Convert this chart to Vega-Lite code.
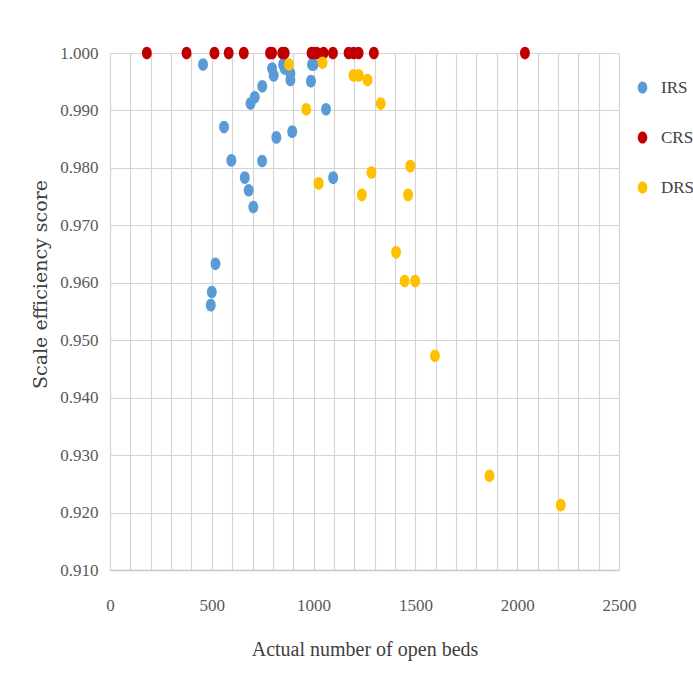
{
  "$schema": "https://vega.github.io/schema/vega-lite/v6.json",
  "autosize": {"type": "none"},
  "padding": {"left": 110, "top": 53, "right": 74, "bottom": 116},
  "width": 509,
  "height": 517,
  "background": "white",
  "config": {"view": {"stroke": null}},
  "data": {"values": [
    {"beds": 457, "score": 0.998, "type": "IRS"},
    {"beds": 796, "score": 0.9973, "type": "IRS"},
    {"beds": 804, "score": 0.9961, "type": "IRS"},
    {"beds": 850, "score": 0.998, "type": "IRS"},
    {"beds": 858, "score": 0.9973, "type": "IRS"},
    {"beds": 886, "score": 0.9964, "type": "IRS"},
    {"beds": 886, "score": 0.9953, "type": "IRS"},
    {"beds": 992, "score": 0.998, "type": "IRS"},
    {"beds": 1000, "score": 0.998, "type": "IRS"},
    {"beds": 987, "score": 0.9951, "type": "IRS"},
    {"beds": 748, "score": 0.9942, "type": "IRS"},
    {"beds": 711, "score": 0.9923, "type": "IRS"},
    {"beds": 690, "score": 0.9912, "type": "IRS"},
    {"beds": 1061, "score": 0.9902, "type": "IRS"},
    {"beds": 560, "score": 0.9871, "type": "IRS"},
    {"beds": 817, "score": 0.9853, "type": "IRS"},
    {"beds": 895, "score": 0.9863, "type": "IRS"},
    {"beds": 596, "score": 0.9813, "type": "IRS"},
    {"beds": 747, "score": 0.9812, "type": "IRS"},
    {"beds": 1096, "score": 0.9783, "type": "IRS"},
    {"beds": 662, "score": 0.9783, "type": "IRS"},
    {"beds": 681, "score": 0.9761, "type": "IRS"},
    {"beds": 704, "score": 0.9732, "type": "IRS"},
    {"beds": 518, "score": 0.9633, "type": "IRS"},
    {"beds": 500, "score": 0.9584, "type": "IRS"},
    {"beds": 495, "score": 0.9561, "type": "IRS"},
    {"beds": 181, "score": 1.0, "type": "CRS"},
    {"beds": 376, "score": 1.0, "type": "CRS"},
    {"beds": 513, "score": 1.0, "type": "CRS"},
    {"beds": 583, "score": 1.0, "type": "CRS"},
    {"beds": 657, "score": 1.0, "type": "CRS"},
    {"beds": 786, "score": 1.0, "type": "CRS"},
    {"beds": 796, "score": 1.0, "type": "CRS"},
    {"beds": 846, "score": 1.0, "type": "CRS"},
    {"beds": 858, "score": 1.0, "type": "CRS"},
    {"beds": 990, "score": 1.0, "type": "CRS"},
    {"beds": 1001, "score": 1.0, "type": "CRS"},
    {"beds": 1015, "score": 1.0, "type": "CRS"},
    {"beds": 1049, "score": 1.0, "type": "CRS"},
    {"beds": 1095, "score": 1.0, "type": "CRS"},
    {"beds": 1172, "score": 1.0, "type": "CRS"},
    {"beds": 1197, "score": 1.0, "type": "CRS"},
    {"beds": 1221, "score": 1.0, "type": "CRS"},
    {"beds": 1296, "score": 1.0, "type": "CRS"},
    {"beds": 2038, "score": 1.0, "type": "CRS"},
    {"beds": 879, "score": 0.998, "type": "DRS"},
    {"beds": 1044, "score": 0.9983, "type": "DRS"},
    {"beds": 964, "score": 0.9902, "type": "DRS"},
    {"beds": 1025, "score": 0.9773, "type": "DRS"},
    {"beds": 1196, "score": 0.9961, "type": "DRS"},
    {"beds": 1222, "score": 0.9961, "type": "DRS"},
    {"beds": 1265, "score": 0.9953, "type": "DRS"},
    {"beds": 1330, "score": 0.9912, "type": "DRS"},
    {"beds": 1284, "score": 0.9792, "type": "DRS"},
    {"beds": 1475, "score": 0.9803, "type": "DRS"},
    {"beds": 1237, "score": 0.9753, "type": "DRS"},
    {"beds": 1464, "score": 0.9753, "type": "DRS"},
    {"beds": 1405, "score": 0.9653, "type": "DRS"},
    {"beds": 1447, "score": 0.9603, "type": "DRS"},
    {"beds": 1499, "score": 0.9603, "type": "DRS"},
    {"beds": 1596, "score": 0.9473, "type": "DRS"},
    {"beds": 1864, "score": 0.9264, "type": "DRS"},
    {"beds": 2214, "score": 0.9213, "type": "DRS"}
  ]},
  "mark": {
    "type": "point",
    "filled": true,
    "opacity": 1,
    "size": 160,
    "shape": "M -0.78 0 A 0.78 1 0 1 1 0.78 0 A 0.78 1 0 1 1 -0.78 0 Z"
  },
  "encoding": {
    "x": {
      "field": "beds",
      "type": "quantitative",
      "scale": {"domain": [0, 2500], "nice": false, "zero": false},
      "axis": {
        "title": "Actual number of open beds",
        "values": [0,100,200,300,400,500,600,700,800,900,1000,1100,1200,1300,1400,1500,1600,1700,1800,1900,2000,2100,2200,2300,2400,2500],
        "labelExpr": "datum.value % 500 === 0 ? datum.label : ''",
        "format": "d",
        "grid": true,
        "gridColor": "#d4d4d4",
        "gridWidth": 1.2,
        "domain": true,
        "domainColor": "#c8c8c8",
        "domainWidth": 1.5,
        "ticks": false,
        "labelPadding": 27,
        "labelFont": "Liberation Serif",
        "labelFontSize": 17,
        "labelColor": "#595959",
        "labelOverlap": false,
        "labelFlush": false,
        "titleFont": "Liberation Serif",
        "titleFontSize": 20,
        "titleFontWeight": "normal",
        "titleColor": "#404040",
        "titlePadding": 26
      }
    },
    "y": {
      "field": "score",
      "type": "quantitative",
      "scale": {"domain": [0.91, 1.0], "nice": false, "zero": false},
      "axis": {
        "title": "Scale efficiency score",
        "values": [0.91,0.92,0.93,0.94,0.95,0.96,0.97,0.98,0.99,1.0],
        "format": ".3f",
        "grid": true,
        "gridColor": "#d4d4d4",
        "gridWidth": 1.2,
        "domain": false,
        "ticks": false,
        "labelPadding": 12,
        "labelFont": "Liberation Serif",
        "labelFontSize": 17,
        "labelColor": "#595959",
        "titleFont": "DejaVu Serif",
        "titleFontSize": 19,
        "titleFontWeight": "normal",
        "titleColor": "#404040",
        "titleX": -70,
        "titleY": 231,
        "titleAngle": -90,
        "titleAlign": "center",
        "titleBaseline": "middle"
      }
    },
    "color": {
      "field": "type",
      "type": "nominal",
      "scale": {"domain": ["IRS", "CRS", "DRS"], "range": ["#5B9BD5", "#C00000", "#FFC000"]},
      "legend": {
        "title": null,
        "orient": "none",
        "legendX": 524,
        "legendY": 26,
        "labelFont": "Liberation Serif",
        "labelFontSize": 17,
        "labelColor": "#404040",
        "labelOffset": 10,
        "rowPadding": 32,
        "symbolSize": 150,
        "symbolType": "M -0.78 0 A 0.78 1 0 1 1 0.78 0 A 0.78 1 0 1 1 -0.78 0 Z",
        "symbolStrokeWidth": 0
      }
    }
  }
}
